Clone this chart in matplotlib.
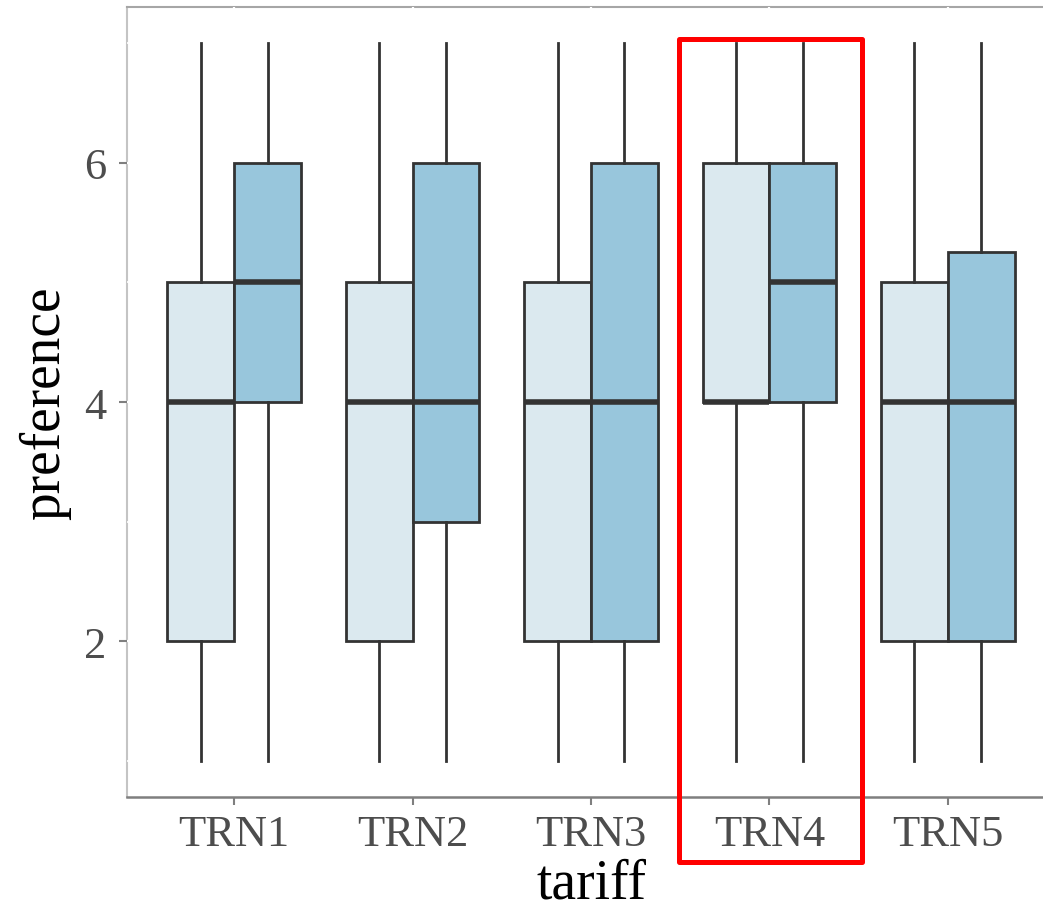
import matplotlib.pyplot as plt
from matplotlib.patches import Rectangle

# values (five-number summaries)
tariffs = ['TRN1', 'TRN2', 'TRN3', 'TRN4', 'TRN5']
light_low = [1, 1, 1, 1, 1]
light_q1 = [2, 2, 2, 4, 2]
light_med = [4, 4, 4, 4, 4]
light_q3 = [5, 5, 5, 6, 5]
light_high = [7, 7, 7, 7, 7]
dark_low = [1, 1, 1, 1, 1]
dark_q1 = [4, 3, 2, 4, 2]
dark_med = [5, 4, 4, 5, 4]
dark_q3 = [6, 6, 6, 6, 5.25]
dark_high = [7, 7, 7, 7, 7]
highlight = 'TRN4'

light_col = '#DBE9EF'
dark_col = '#98C6DC'
edge = '#333333'

plt.rcParams['font.family'] = ['Liberation Serif', 'DejaVu Serif']

fig = plt.figure(figsize=(10.43, 9.12), dpi=100)
ax = fig.add_axes([0.1218, 0.125, 0.8897, 0.8662])


def stats(lo, q1, med, q3, hi):
    return [dict(whislo=a, q1=b, med=c, q3=d, whishi=e, fliers=[])
            for a, b, c, d, e in zip(lo, q1, med, q3, hi)]


x = list(range(1, len(tariffs) + 1))
w = 0.375
for st, col, off in [(stats(light_low, light_q1, light_med, light_q3, light_high), light_col, -w / 2),
                     (stats(dark_low, dark_q1, dark_med, dark_q3, dark_high), dark_col, w / 2)]:
    ax.bxp(st, positions=[p + off for p in x], widths=w, patch_artist=True,
           showcaps=False, showfliers=False,
           boxprops=dict(facecolor=col, edgecolor=edge, linewidth=2.0),
           whiskerprops=dict(color=edge, linewidth=2.0),
           medianprops=dict(color=edge, linewidth=4.0, solid_capstyle='butt'),
           zorder=2)

ax.set_xlim(0.4, 5.6)
ax.set_ylim(0.7, 7.3)
ax.set_xticks(x)
ax.set_xticklabels(tariffs)
ax.set_yticks([2, 4, 6])
ax.set_yticks([1, 3, 5, 7], minor=True)

ax.set_axisbelow(True)
ax.grid(True, which='major', color='white', linewidth=1.6)
ax.grid(True, which='minor', axis='y', color='white', linewidth=1.2)
ax.tick_params(axis='y', which='minor', length=0)
ax.tick_params(axis='both', which='major', colors='#7F7F7F', length=6, width=1.5,
               labelsize=32, labelcolor='#4D4D4D')
ax.tick_params(axis='x', pad=6)
ax.tick_params(axis='y', pad=9)

ax.spines['right'].set_visible(False)
ax.spines['top'].set_color('#A6A6A6')
ax.spines['left'].set_color('#C4C4C4')
ax.spines['top'].set_zorder(0.3)
ax.spines['left'].set_zorder(0.3)
ax.spines['top'].set_linewidth(1.5)
ax.spines['left'].set_linewidth(1.5)
ax.spines['bottom'].set_color('#7F7F7F')
ax.spines['bottom'].set_linewidth(1.8)
ax.spines['bottom'].set_zorder(3)

ax.set_xlabel('tariff', fontsize=40, color='black', labelpad=3)
ax.set_ylabel('preference', fontsize=40, color='black', labelpad=9)

# red highlight box around one tariff
hx = tariffs.index(highlight) + 1
ax.add_patch(Rectangle((hx - 0.505, 0.16), 1.025, 6.87, fill=False,
                       edgecolor='#FF0000', linewidth=3.6, clip_on=False,
                       zorder=5, joinstyle='round'))

fig.savefig('out.png', dpi=100)
